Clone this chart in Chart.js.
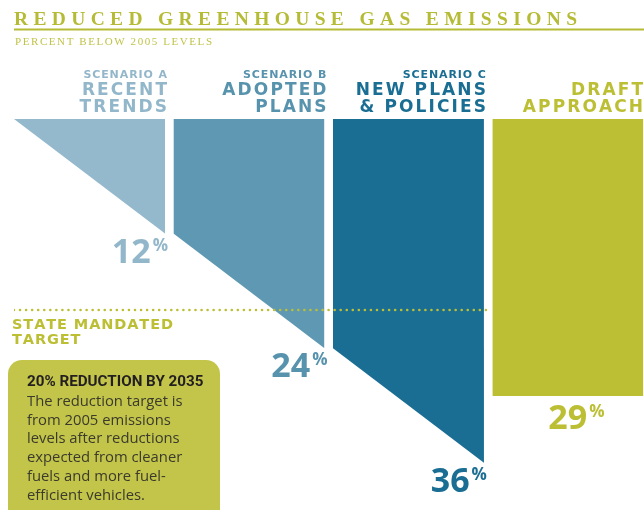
<!DOCTYPE html>
<html>
<head>
<meta charset="utf-8">
<script src="https://cdn.jsdelivr.net/npm/chart.js@4.4.1/dist/chart.umd.min.js"></script>
<style>
  html, body { margin: 0; padding: 0; background: #ffffff; }
  canvas { display: block; }
</style>
</head>
<body>
<canvas id="c" width="644" height="510"></canvas>
<script>
// ---- data ----
const categories = ['Scenario A', 'Scenario B', 'Scenario C', 'Draft Approach'];
const scenarioLabels = ['SCENARIO A', 'SCENARIO B', 'SCENARIO C', ''];
const nameLines = [['RECENT', 'TRENDS'], ['ADOPTED', 'PLANS'], ['NEW PLANS', '& POLICIES'], ['DRAFT', 'APPROACH']];
const startValues = [0, 12, 24, 29];   // reduction at the left edge of each block (%)
const endValues = [12, 24, 36, 29];    // reduction at the right edge of each block (%)
const targetValue = 20;
const targetLabel = ['STATE MANDATED', 'TARGET'];
const titleText = 'REDUCED GREENHOUSE GAS EMISSIONS';
const subtitleText = 'PERCENT BELOW 2005 LEVELS';
const noteTitle = '20% REDUCTION BY 2035';
const noteLines = ['The reduction target is', 'from 2005 emissions', 'levels after reductions', 'expected from cleaner', 'fuels and more fuel-', 'efficient vehicles.'];

// ---- styles ----
const fillColors = ['#95b9cc', '#5e98b2', '#1a6e94', '#bcbf34'];
const textColors = ['#93b7ca', '#5893ae', '#1a6e93', '#bcbf34'];
const olive = '#bcbf34';
const pitch = 1.056, blockW = 1.0;

const datasets = categories.map((c, i) => {
  const s = i * pitch, e = s + blockW;
  return {
    label: c,
    data: [{x: s, y: startValues[i]}, {x: e, y: endValues[i]}],
    showLine: true, fill: 'origin', tension: 0,
    backgroundColor: fillColors[i], borderColor: 'rgba(0,0,0,0)', borderWidth: 0,
    pointRadius: 0, order: 2
  };
});
datasets.push({
  label: 'Target',
  data: [{x: 0, y: targetValue}, {x: 3 * pitch - 0.03, y: targetValue}],
  showLine: true, fill: false, borderColor: olive, borderWidth: 2.6,
  borderDash: [0, 6.05], borderCapStyle: 'round', pointRadius: 0, order: 0
});

function charWidths(ctx, text) {
  const adv = [];
  for (const ch of text) adv.push(ctx.measureText(ch).width);
  return adv;
}
function spacedText(ctx, text, x, y, spacing, align) {
  const adv = charWidths(ctx, text);
  let w = adv.reduce((a, b) => a + b, 0) + spacing * (adv.length - 1);
  let cx = align === 'right' ? x - w : (align === 'center' ? x - w / 2 : x);
  let k = 0;
  ctx.textAlign = 'left';
  for (const ch of text) { ctx.fillText(ch, cx, y); cx += adv[k++] + spacing; }
  return w;
}
function fitText(ctx, text, x0, x1, y) {
  const adv = charWidths(ctx, text);
  const nat = adv.reduce((a, b) => a + b, 0);
  const sp = (x1 - x0 - nat) / (adv.length - 1);
  spacedText(ctx, text, x0, y, sp, 'left');
}

const textPlugin = {
  id: 'texts',
  afterDraw(chart) {
    const ctx = chart.ctx, xs = chart.scales.x, ys = chart.scales.y;
    ctx.save();
    ctx.textBaseline = 'alphabetic';
    // title
    ctx.fillStyle = '#b6bb36';
    ctx.font = 'bold 19.5px "Liberation Serif"';
    fitText(ctx, titleText, 14, 577, 25);
    ctx.fillRect(14, 28.5, 630, 2);
    ctx.font = '11px "Liberation Serif"';
    ctx.fillStyle = '#c0c34a';
    fitText(ctx, subtitleText, 15, 212, 44.5);

    // headers and values
    categories.forEach((c, i) => {
      const s = i * pitch, e = s + blockW;
      const right = Math.min(xs.getPixelForValue(e) + 2, 643);
      ctx.fillStyle = textColors[i];
      if (scenarioLabels[i]) {
        ctx.font = 'bold 11px "DejaVu Sans"';
        spacedText(ctx, scenarioLabels[i], right, 78, 0.9, 'right');
      }
      ctx.font = 'bold 17px "DejaVu Sans"';
      spacedText(ctx, nameLines[i][0], right, 95, 2.1, 'right');
      spacedText(ctx, nameLines[i][1], right, 112, 2.1, 'right');

      // value label
      const bottom = ys.getPixelForValue(endValues[i]);
      const isFlat = startValues[i] === endValues[i];
      const base = bottom + (isFlat ? 33 : 29);
      const numFont = 'bold 34px "Open Sans"';
      const pctFont = 'bold 17px "Open Sans"';
      ctx.font = numFont;
      const num = String(endValues[i]);
      const nw = ctx.measureText(num).width;
      ctx.font = pctFont;
      const pw = ctx.measureText('%').width;
      let left;
      if (isFlat) {
        left = xs.getPixelForValue(s) + 84 - (nw + 2 + pw) / 2;
      } else {
        left = xs.getPixelForValue(e) + 3 - (nw + 2 + pw);
      }
      ctx.font = numFont;
      ctx.textAlign = 'left';
      ctx.fillText(num, left, base);
      ctx.font = pctFont;
      ctx.fillText('%', left + nw + 2, base - 12);
    });

    // target label
    ctx.fillStyle = olive;
    ctx.font = 'bold 14.5px "DejaVu Sans"';
    spacedText(ctx, targetLabel[0], 12, 329, 0.9, 'left');
    spacedText(ctx, targetLabel[1], 12, 344, 0.9, 'left');

    // note box
    ctx.fillStyle = '#c3c54b';
    ctx.beginPath();
    ctx.roundRect(8, 360, 212, 170, 14);
    ctx.fill();
    ctx.fillStyle = '#231f20';
    ctx.font = 'bold 15.2px Roboto';
    ctx.fillText(noteTitle, 27, 386);
    ctx.fillStyle = '#3b3a2c';
    ctx.font = '14.8px "Open Sans"';
    noteLines.forEach((l, k) => ctx.fillText(l, 27, 406 + k * 18.7));
    ctx.restore();
  }
};

new Chart(document.getElementById('c'), {
  type: 'scatter',
  data: { datasets },
  options: {
    responsive: false,
    animation: false,
    layout: { padding: { top: 119, left: 14, right: 0, bottom: 0 } },
    plugins: { legend: { display: false }, tooltip: { enabled: false } },
    scales: {
      x: { type: 'linear', display: false, min: 0, max: 630 / 151 },
      y: { type: 'linear', display: false, min: 0, max: 391 / 9.55, reverse: true }
    }
  },
  plugins: [textPlugin]
});
</script>
</body>
</html>
